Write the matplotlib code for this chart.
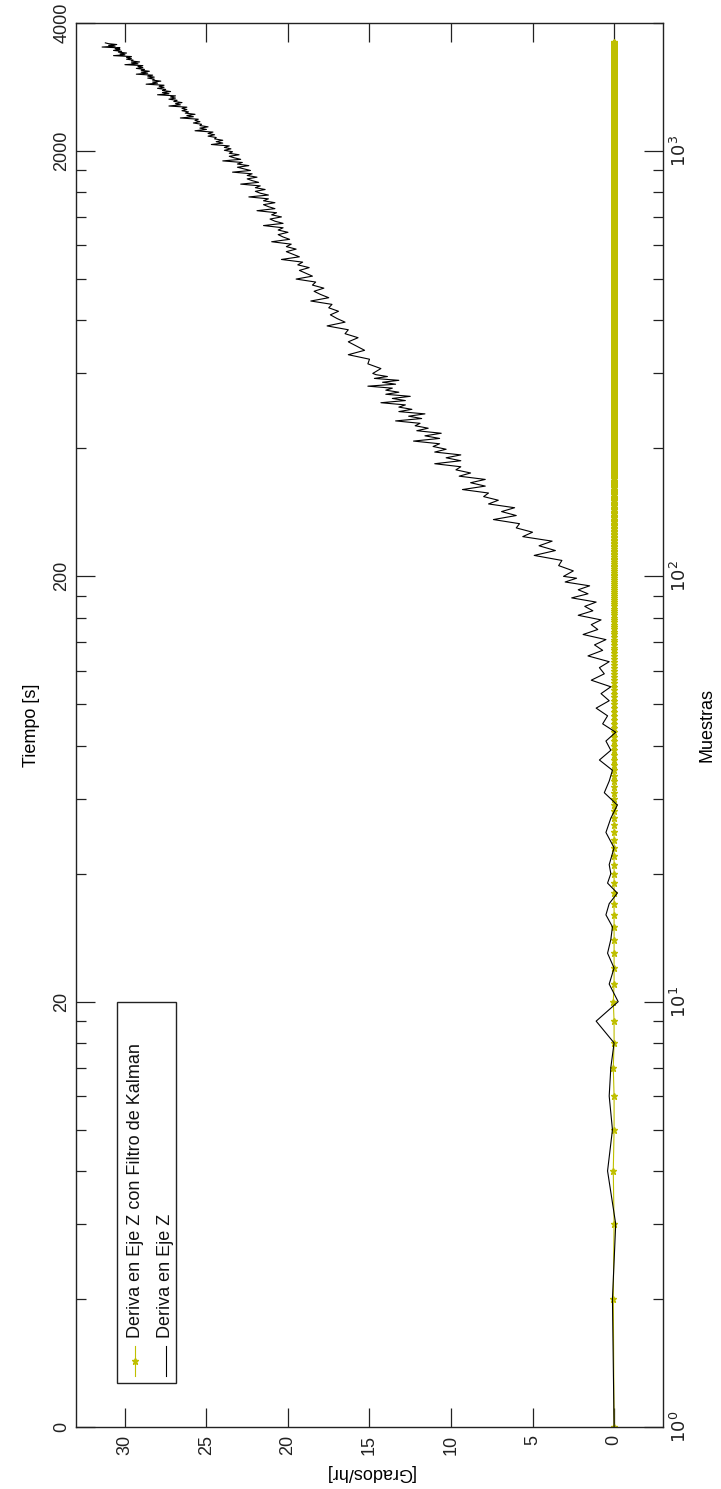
import matplotlib
matplotlib.use("Agg")
import matplotlib.pyplot as plt
from matplotlib.ticker import FixedLocator, FixedFormatter, LogLocator, NullFormatter
from matplotlib.patches import Rectangle
from matplotlib.lines import Line2D

plt.rcParams['font.family'] = ['Liberation Sans', 'DejaVu Sans']
FS = 13

# ---------------- data ----------------
n_muestras = 1800
muestras = list(range(1, n_muestras + 1))

# drift with the Kalman filter applied (stays at zero)
kalman_inicio = [0.0, 0.05, 0.0, 0.05, 0.0, 0.0, 0.05, 0.0, 0.0, 0.05]
deriva_kalman = kalman_inicio + [0.0] * (n_muestras - len(kalman_inicio))

# raw drift on the Z axis, by stretches of samples
n_a = list(range(1, 21))
v_a = [0.0, 0.1, -0.1, 0.4, 0.1, 0.3, 0.2, 0.0, 1.1, -0.25,
       0.3, 0.0, 0.4, 0.2, 0.1, 0.5, 0.3, -0.2, 0.4, 0.2]
n_b = list(range(21, 100, 2))
v_b = [0.3, 0.0, 0.5, 0.2, -0.2, 0.6, 0.3, 0.1, 0.9, 0.2,
       0.5, -0.1, 0.7, 0.4, 1.1, 0.3, 0.8, 0.2, 1.4, 0.6,
       0.9, 0.3, 1.6, 0.7, 1.2, 0.5, 1.9, 1.0, 1.4, 0.8,
       2.2, 1.3, 1.8, 1.1, 2.6, 1.6, 2.2, 1.5, 3.0, 2.3]
n_c = list(range(100, 299, 3))
v_c = [3.1, 2.5, 3.4, 3.2, 4.9, 3.6, 4.6, 3.8, 5.6, 5.0,
       6.0, 5.8, 7.4, 6.0, 6.9, 6.1, 7.7, 7.1, 8.0, 7.7,
       9.3, 7.9, 8.8, 7.9, 9.5, 8.8, 9.7, 9.4, 11.0, 9.4,
       10.3, 9.4, 11.0, 10.3, 11.1, 10.7, 12.3, 10.7, 11.6, 10.6,
       12.1, 11.4, 12.2, 11.9, 13.4, 11.8, 12.6, 11.6, 13.2, 12.4,
       13.2, 12.8, 14.3, 12.8, 13.6, 12.5, 14.0, 13.2, 14.0, 13.6,
       15.1, 13.4, 14.2, 13.2, 14.7, 13.9, 14.6]
n_d = list(range(300, 1000, 8))
v_d = [14.8, 14.3, 15.1, 15.0, 16.3, 15.3, 15.8, 16.3, 15.7, 16.5,
       16.3, 17.6, 16.5, 17.0, 17.4, 16.9, 17.5, 17.3, 18.6, 17.5,
       18.0, 18.4, 17.8, 18.5, 18.3, 19.5, 18.5, 18.9, 19.3, 18.7,
       19.4, 19.1, 20.4, 19.3, 19.7, 20.1, 19.5, 20.1, 19.8, 21.0,
       19.9, 20.3, 20.6, 20.0, 20.6, 20.3, 21.5, 20.3, 20.8, 21.1,
       20.4, 21.0, 20.7, 21.9, 20.8, 21.2, 21.5, 20.8, 21.5, 21.2,
       22.4, 21.2, 21.7, 22.0, 21.4, 22.0, 21.7, 22.9, 21.8, 22.2,
       22.5, 21.9, 22.5, 22.2, 23.4, 22.3, 22.7, 23.1, 22.4, 23.1,
       22.8, 24.0, 22.9, 23.3, 23.6, 23.0, 23.6, 23.4]
n_e = list(range(1004, 1800, 8))
v_e = [23.9, 23.5, 23.9, 23.6, 24.7, 24.0, 24.4, 24.0, 24.5, 24.4,
       24.9, 24.5, 24.9, 24.6, 25.7, 25.0, 25.4, 24.9, 25.4, 25.3,
       25.8, 25.4, 25.7, 25.5, 26.6, 25.8, 26.2, 25.7, 26.3, 26.1,
       26.5, 26.2, 26.5, 26.2, 27.3, 26.6, 26.9, 26.5, 27.0, 26.8,
       27.3, 26.9, 27.2, 26.9, 28.0, 27.3, 27.7, 27.2, 27.7, 27.5,
       28.0, 27.6, 27.9, 27.6, 28.7, 28.0, 28.3, 27.8, 28.3, 28.2,
       28.6, 28.2, 28.6, 28.3, 29.3, 28.6, 29.0, 28.5, 29.0, 28.8,
       29.3, 28.9, 29.2, 28.9, 30.0, 29.2, 29.6, 29.1, 29.6, 29.5,
       29.9, 29.6, 29.9, 29.6, 30.7, 30.0, 30.3, 29.9, 30.4, 30.2,
       30.7, 30.3, 30.6, 30.3, 31.4, 30.6, 31.0, 30.5, 31.0, 31.2]
muestras_z = n_a + n_b + n_c + n_d + n_e
deriva_z = v_a + v_b + v_c + v_d + v_e

grados_ticks = [0, 5, 10, 15, 20, 25, 30]
muestras_ticks = [1, 10, 100, 1000]
muestras_labels = [r'$10^{0}$', r'$10^{1}$', r'$10^{2}$', r'$10^{3}$']
tiempo_pos = [1, 10, 100, 1000, 2000]
tiempo_labels = ['0', '20', '200', '2000', '4000']

AMARILLO = (0.75, 0.75, 0.0)
BORDE = '#222222'

# ---------------- figure (page turned on its side) ----------------
W, H = 721, 1489
fig = plt.figure(figsize=(W / 100, H / 100), dpi=100)
L, R, T, B = 76, 663, 23, 1427
ax = fig.add_axes([L / W, 1 - B / H, (R - L) / W, (B - T) / H])
ax2 = ax.twinx()

ax.plot(deriva_kalman, muestras, color=AMARILLO, lw=0.8, marker='*', ms=5,
        mec=AMARILLO, mfc=AMARILLO, zorder=2)
ax.plot(deriva_z, muestras_z, color='k', lw=0.8, zorder=3)

ax.set_yscale('log')
ax.set_ylim(1, 2000)
ax.set_xlim(33, -3)

for s in ax.spines.values():
    s.set_linewidth(1.0)
    s.set_color(BORDE)

# value axis along the bottom
ax.set_xticks(grados_ticks)
ax.set_xticklabels([str(t) for t in grados_ticks], rotation=90, fontsize=FS,
                   va='top', ha='center')
ax.tick_params(axis='x', direction='in', length=14, width=0.9, top=True,
               pad=6, colors=BORDE)
ax.set_xlabel('[Grados/hr]', rotation=180, fontsize=FS, labelpad=6)

# sample axis on the right
ax.yaxis.set_major_locator(FixedLocator(muestras_ticks))
ax.yaxis.set_major_formatter(FixedFormatter(muestras_labels))
ax.yaxis.set_minor_locator(LogLocator(base=10, subs=range(2, 10), numticks=20))
ax.yaxis.set_minor_formatter(NullFormatter())
ax.yaxis.tick_right()
ax.tick_params(axis='y', which='major', direction='in', length=14, width=0.9,
               left=False, right=True, labelleft=False, labelright=True,
               pad=5, labelsize=FS, colors=BORDE)
ax.tick_params(axis='y', which='minor', direction='in', length=7, width=0.9,
               left=False, right=True, colors=BORDE)
for lab in ax.get_yticklabels():
    lab.set_rotation(90)
    lab.set_va('center')
    lab.set_ha('left')
ax.yaxis.set_label_position('right')
ax.set_ylabel('Muestras', fontsize=FS, labelpad=6, rotation=90)

# time axis on the left
ax2.set_yscale('log')
ax2.set_ylim(1, 2000)
ax2.yaxis.set_major_locator(FixedLocator(tiempo_pos))
ax2.yaxis.set_major_formatter(FixedFormatter(tiempo_labels))
ax2.yaxis.set_minor_locator(LogLocator(base=10, subs=range(2, 10), numticks=20))
ax2.yaxis.set_minor_formatter(NullFormatter())
ax2.yaxis.tick_left()
ax2.tick_params(axis='y', which='major', direction='in', length=14, width=0.9,
                left=True, right=False, labelleft=True, labelright=False,
                pad=4, labelsize=FS, colors=BORDE)
ax2.tick_params(axis='y', which='minor', direction='in', length=7, width=0.9,
                left=True, right=False, colors=BORDE)
for lab in ax2.get_yticklabels():
    lab.set_rotation(90)
    lab.set_va('center')
    lab.set_ha('right')
ax2.yaxis.set_label_position('left')
ax2.set_ylabel('Tiempo [s]', fontsize=FS, labelpad=10)
for s in ax2.spines.values():
    s.set_visible(False)


# legend box, turned like the rest of the page
def fx(px):
    return px / W


def fy(py):
    return 1 - py / H


fig.add_artist(Rectangle((fx(117), fy(1383)), fx(176) - fx(117), fy(1002) - fy(1383),
                         transform=fig.transFigure, facecolor='white',
                         edgecolor=BORDE, lw=1.0, zorder=10))
entradas = [
    (135, AMARILLO, '*', 'Deriva en Eje Z con Filtro de Kalman'),
    (166, 'k', None, 'Deriva en Eje Z'),
]
for xc, col, mk, texto in entradas:
    fig.add_artist(Line2D([fx(xc), fx(xc)], [fy(1376), fy(1346)], color=col, lw=0.8,
                          transform=fig.transFigure, zorder=11))
    if mk:
        fig.add_artist(Line2D([fx(xc)], [fy(1361)], color=col, marker=mk, ms=5,
                              transform=fig.transFigure, zorder=11))
    fig.text(fx(xc), fy(1338), texto, rotation=90, rotation_mode='anchor',
             ha='left', va='center', fontsize=FS, color='#111111', zorder=12)

fig.savefig('out.png', dpi=100)
